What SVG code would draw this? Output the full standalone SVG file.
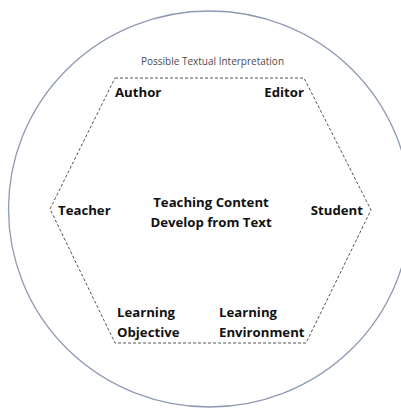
<svg xmlns="http://www.w3.org/2000/svg" width="401" height="411" viewBox="0 0 401 411">
<style>
.lbl{font-family:"Open Sans","Liberation Sans",sans-serif;font-weight:bold;font-size:13.2px;fill:#111}
.title{font-family:"Open Sans","Liberation Sans",sans-serif;font-size:10px;fill:#4a4a4a}
</style>
<rect width="401" height="411" fill="#fff"/>
<g id="outer">
<ellipse cx="209.5" cy="209" rx="201" ry="198" fill="none" stroke="#8e9ab2" stroke-width="1.3"/>
<text class="title" x="212.5" y="65" text-anchor="middle">Possible Textual Interpretation</text>
</g>
<g id="connectors">
<polygon points="115,78 304,78 371,210 306,343 115,343 50,209" fill="none" stroke="#555" stroke-width="1" stroke-dasharray="3,2"/>
</g>
<g id="author"><text class="lbl" x="115" y="97">Author</text></g>
<g id="editor"><text class="lbl" x="304" y="97" text-anchor="end">Editor</text></g>
<g id="teacher"><text class="lbl" x="58" y="215">Teacher</text></g>
<g id="center"><text class="lbl" x="211" y="207" text-anchor="middle">Teaching Content</text><text class="lbl" x="211" y="227" text-anchor="middle">Develop from Text</text></g>
<g id="student"><text class="lbl" x="363" y="215" text-anchor="end">Student</text></g>
<g id="objective"><text class="lbl" x="117" y="317">Learning</text><text class="lbl" x="117" y="337">Objective</text></g>
<g id="environment"><text class="lbl" x="219" y="317">Learning</text><text class="lbl" x="219" y="337">Environment</text></g>
</svg>
